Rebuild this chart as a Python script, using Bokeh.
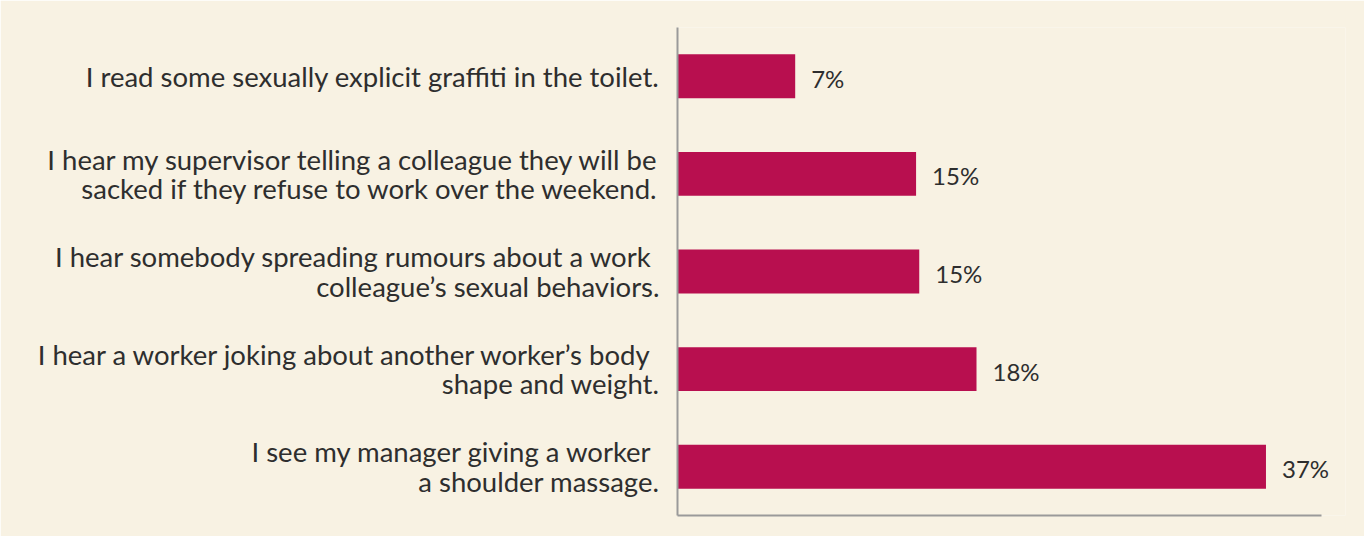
from bokeh.plotting import figure
from bokeh.models import ColumnDataSource, LabelSet, FactorRange, Range1d, FixedTicker
from bokeh.core.properties import value
from bokeh.embed import file_html
from bokeh.resources import INLINE

categories = [
    "I read some sexually explicit graffiti in the toilet.",
    "I hear my supervisor telling a colleague they will be\nsacked if they refuse to work over the weekend.",
    "I hear somebody spreading rumours about a work \ncolleague\u2019s sexual behaviors.",
    "I hear a worker joking about another worker\u2019s body \nshape and weight.",
    "I see my manager giving a worker \na shoulder massage.",
]
values = [7.4, 15.0, 15.2, 18.8, 37.0]
value_labels = ["7%", "15%", "15%", "18%", "37%"]

BG = "#f8f2e3"
BAR = "#b80f4f"
TXT = "#2e2e2e"
AX = "#9a9a9a"
FONT = "Lato"

src = ColumnDataSource(dict(cat=categories, val=values, lab=value_labels))

p = figure(width=1364, height=536, output_backend="svg", toolbar_location=None,
           y_range=FactorRange(factors=list(reversed(categories))),
           x_range=Range1d(0, 42.0),
           min_border_left=677, min_border_right=19, min_border_top=27, min_border_bottom=21)
p.background_fill_color = BG
p.border_fill_color = BG
p.outline_line_color = None
p.grid.visible = False

for ax in (p.xaxis, p.yaxis):
    ax.axis_line_color = AX
    ax.axis_line_width = 2
    ax.major_tick_line_color = None
    ax.minor_tick_line_color = None

p.xaxis.ticker = FixedTicker(ticks=[])
p.xaxis.bounds = (0, 40.5)
p.xaxis.major_label_standoff = 0

p.yaxis.major_label_text_font = FONT
p.yaxis.major_label_text_font_size = "27.5px"
p.yaxis.major_label_text_color = TXT
p.yaxis.major_label_text_align = "right"
p.yaxis.major_label_text_line_height = 0.9
p.yaxis.major_label_standoff = 12

p.hbar(y="cat", right="val", left=0, height=0.45, source=src,
       fill_color=BAR, line_color=None)

val_labels = LabelSet(x="val", y="cat", text="lab", source=src, x_offset=16, y_offset=-2,
                      text_align="left", text_baseline="middle",
                      text_font=value(FONT), text_font_size="24px", text_color=TXT)
p.add_layout(val_labels)

open("out.html", "w").write(file_html(p, INLINE))
